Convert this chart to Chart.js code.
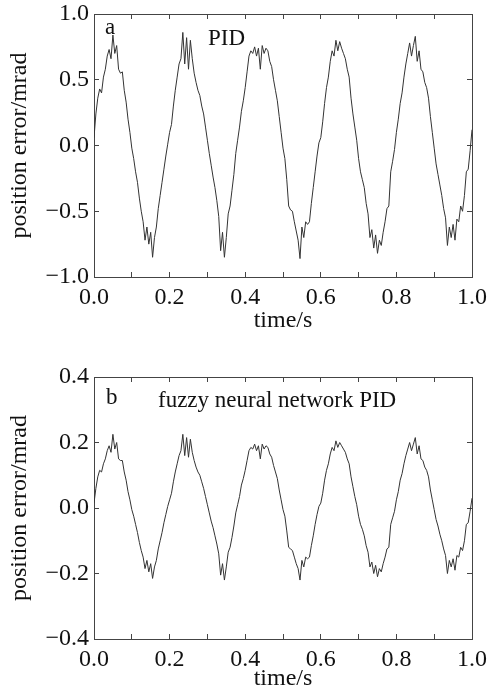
<!DOCTYPE html>
<html lang="en">
<head>
<meta charset="UTF-8" />
<title>Position error: PID vs fuzzy neural network PID</title>
<script src="https://cdn.jsdelivr.net/npm/chart.js"></script>
<style>
  body { margin: 0; background: #fff; }
  canvas { position: absolute; left: 0; }
  #topChart { top: 0; }
  #bottomChart { top: 345px; }
</style>
</head>
<body>
<canvas id="topChart" width="487" height="345"></canvas>
<canvas id="bottomChart" width="487" height="347"></canvas>
<script>
// samples every 5 ms
const sampleStep = 0.005;

// (a) PID, mrad
const pidError = [
  0.06, 0.24, 0.36, 0.43, 0.40, 0.52, 0.58, 0.68, 0.73, 0.66, 0.84, 0.70, 0.76, 0.58, 0.55, 0.56, 0.42, 0.33, 0.20, 0.10,
  -0.02, -0.10, -0.20, -0.28, -0.40, -0.50, -0.58, -0.72, -0.62, -0.75, -0.66, -0.85, -0.70, -0.62, -0.48, -0.38, -0.28, -0.18, -0.08, 0.01,
  0.10, 0.16, 0.30, 0.42, 0.52, 0.62, 0.66, 0.86, 0.62, 0.82, 0.58, 0.80, 0.66, 0.55, 0.48, 0.42, 0.38, 0.30, 0.24, 0.14,
  0.04, -0.06, -0.15, -0.24, -0.32, -0.42, -0.54, -0.80, -0.66, -0.85, -0.70, -0.52, -0.46, -0.34, -0.22, -0.06, 0.04, 0.14, 0.26, 0.34,
  0.44, 0.56, 0.68, 0.72, 0.70, 0.75, 0.68, 0.74, 0.58, 0.76, 0.70, 0.74, 0.72, 0.64, 0.60, 0.50, 0.42, 0.34, 0.22, 0.10,
  -0.02, -0.10, -0.26, -0.46, -0.49, -0.50, -0.58, -0.65, -0.72, -0.86, -0.62, -0.70, -0.58, -0.60, -0.58, -0.44, -0.32, -0.20, -0.08, 0.02,
  0.06, 0.18, 0.32, 0.44, 0.52, 0.64, 0.72, 0.68, 0.80, 0.72, 0.79, 0.74, 0.70, 0.66, 0.58, 0.52, 0.36, 0.24, 0.14, 0.04,
  -0.10, -0.20, -0.26, -0.32, -0.44, -0.52, -0.70, -0.64, -0.78, -0.68, -0.82, -0.72, -0.76, -0.66, -0.58, -0.48, -0.46, -0.20, -0.12, -0.03,
  0.10, 0.20, 0.32, 0.40, 0.52, 0.62, 0.70, 0.78, 0.68, 0.76, 0.83, 0.64, 0.72, 0.58, 0.56, 0.48, 0.44, 0.36, 0.22, 0.10,
  -0.02, -0.14, -0.22, -0.30, -0.38, -0.48, -0.55, -0.76, -0.62, -0.70, -0.60, -0.72, -0.56, -0.58, -0.46, -0.50, -0.38, -0.20, -0.18, -0.04,
  0.12
];

// (b) fuzzy neural network PID, mrad
const fnnError = [
  0.015, 0.06, 0.095, 0.115, 0.11, 0.135, 0.15, 0.175, 0.19, 0.17, 0.225, 0.18, 0.2, 0.15, 0.145, 0.145, 0.11, 0.085, 0.05, 0.025,
  -0.005, -0.025, -0.05, -0.075, -0.105, -0.13, -0.15, -0.185, -0.16, -0.195, -0.17, -0.215, -0.18, -0.16, -0.125, -0.1, -0.075, -0.045, -0.02, 0.005,
  0.025, 0.045, 0.08, 0.11, 0.135, 0.16, 0.175, 0.225, 0.16, 0.215, 0.155, 0.21, 0.17, 0.145, 0.125, 0.11, 0.1, 0.08, 0.06, 0.035,
  0.01, -0.015, -0.04, -0.06, -0.085, -0.11, -0.14, -0.205, -0.17, -0.22, -0.18, -0.135, -0.12, -0.09, -0.055, -0.015, 0.01, 0.035, 0.07, 0.09,
  0.115, 0.145, 0.175, 0.185, 0.18, 0.195, 0.175, 0.19, 0.15, 0.195, 0.18, 0.19, 0.185, 0.165, 0.155, 0.13, 0.11, 0.09, 0.055, 0.025,
  -0.005, -0.025, -0.07, -0.12, -0.125, -0.13, -0.15, -0.17, -0.185, -0.22, -0.16, -0.18, -0.15, -0.155, -0.15, -0.115, -0.085, -0.05, -0.02, 0.005,
  0.015, 0.045, 0.085, 0.115, 0.135, 0.165, 0.185, 0.175, 0.205, 0.185, 0.2, 0.19, 0.18, 0.17, 0.15, 0.135, 0.095, 0.065, 0.035, 0.01,
  -0.025, -0.05, -0.065, -0.085, -0.115, -0.135, -0.18, -0.165, -0.2, -0.175, -0.21, -0.185, -0.195, -0.17, -0.15, -0.125, -0.12, -0.05, -0.03, -0.01,
  0.025, 0.05, 0.085, 0.105, 0.135, 0.16, 0.18, 0.2, 0.175, 0.195, 0.215, 0.165, 0.19, 0.15, 0.145, 0.125, 0.115, 0.095, 0.055, 0.025,
  -0.005, -0.035, -0.055, -0.08, -0.1, -0.125, -0.145, -0.2, -0.16, -0.18, -0.155, -0.19, -0.145, -0.15, -0.12, -0.13, -0.1, -0.05, -0.045, -0.01,
  0.03
];

const xTicks = [0, 0.1, 0.2, 0.3, 0.4, 0.5, 0.6, 0.7, 0.8, 0.9, 1.0];
const xTickLabels = ['0.0', '', '0.2', '', '0.4', '', '0.6', '', '0.8', '', '1.0'];
const pidYTicks = [-1.0, -0.5, 0, 0.5, 1.0];
const pidYLabels = ['\u22121.0', '\u22120.5', '0.0', '0.5', '1.0'];
const fnnYTicks = [-0.4, -0.2, 0, 0.2, 0.4];
const fnnYLabels = ['\u22120.4', '\u22120.2', '0.0', '0.2', '0.4'];

const times = pidError.map((_, i) => +(i * sampleStep).toFixed(3));

const FONT = { family: "'Liberation Serif', 'Times New Roman', serif", size: 24 };
const TEXT = '#111';
const FRAME = '#444';

const panelText = {
  id: 'panelText',
  afterDraw(chart, args, opts) {
    const ctx = chart.ctx;
    ctx.save();
    ctx.font = opts.size + 'px ' + FONT.family;
    ctx.fillStyle = TEXT;
    ctx.textBaseline = 'alphabetic';
    opts.items.forEach(it => ctx.fillText(it.text, it.x, it.y));
    ctx.restore();
  }
};

function setTicks(values) {
  return scale => { scale.ticks = values.map(v => ({ value: v })); };
}

function makeChart(id, values, yTicks, yLabels, cfg) {
  const edge = { drawOnChartArea: false, tickLength: -5, color: FRAME, lineWidth: 1 };
  const border = { color: FRAME, width: 1 };
  return new Chart(document.getElementById(id), {
    type: 'line',
    data: {
      datasets: [{
        data: times.map((t, i) => ({ x: t, y: values[i] })),
        borderColor: '#333',
        borderWidth: 1,
        pointRadius: 0,
        tension: 0
      }]
    },
    options: {
      responsive: false,
      animation: false,
      layout: { padding: { top: cfg.padTop, right: 15, left: 0, bottom: 0 } },
      plugins: {
        legend: { display: false },
        tooltip: { enabled: false },
        panelText: { size: 23, items: cfg.notes }
      },
      scales: {
        x: {
          type: 'linear', min: 0, max: 1,
          afterBuildTicks: setTicks(xTicks),
          afterFit: s => { s.height = cfg.xHeight; s.paddingLeft = 0; s.paddingRight = 0; },
          grid: edge, border,
          ticks: { padding: 11, font: FONT, color: TEXT, maxRotation: 0, autoSkip: false,
                   callback: (v, i) => xTickLabels[i] },
          title: { display: true, text: 'time/s', color: TEXT,
                   font: { ...FONT, lineHeight: 1 }, padding: { top: 0, bottom: cfg.xTitlePad } }
        },
        x2: {
          type: 'linear', position: 'top', min: 0, max: 1,
          afterBuildTicks: setTicks(xTicks),
          afterFit: s => { s.height = 0; s.paddingLeft = 0; s.paddingRight = 0; },
          grid: edge, border, ticks: { display: false }
        },
        y: {
          type: 'linear', min: yTicks[0], max: yTicks[yTicks.length - 1],
          afterBuildTicks: setTicks(yTicks),
          afterFit: s => { s.width = 94; s.paddingTop = 0; s.paddingBottom = 0; },
          grid: edge, border,
          ticks: { padding: 10, font: FONT, color: TEXT, callback: (v, i) => yLabels[i] },
          title: { display: true, text: 'position error/mrad', color: TEXT,
                   font: { ...FONT, lineHeight: 1 }, padding: { top: 8, bottom: 0 } }
        },
        y2: {
          type: 'linear', position: 'right', min: yTicks[0], max: yTicks[yTicks.length - 1],
          afterBuildTicks: setTicks(yTicks),
          afterFit: s => { s.width = 0; s.paddingTop = 0; s.paddingBottom = 0; },
          grid: edge, border, ticks: { display: false }
        }
      }
    },
    plugins: [panelText]
  });
}

makeChart('topChart', pidError, pidYTicks, pidYLabels, {
  padTop: 14, xHeight: 68, xTitlePad: 12.5,
  notes: [{ text: 'a', x: 105, y: 33.5 }, { text: 'PID', x: 208, y: 44.5 }]
});

makeChart('bottomChart', fnnError, fnnYTicks, fnnYLabels, {
  padTop: 32, xHeight: 53, xTitlePad: 1.5,
  notes: [{ text: 'b', x: 106, y: 59 }, { text: 'fuzzy neural network PID', x: 158, y: 62 }]
});
</script>
</body>
</html>
